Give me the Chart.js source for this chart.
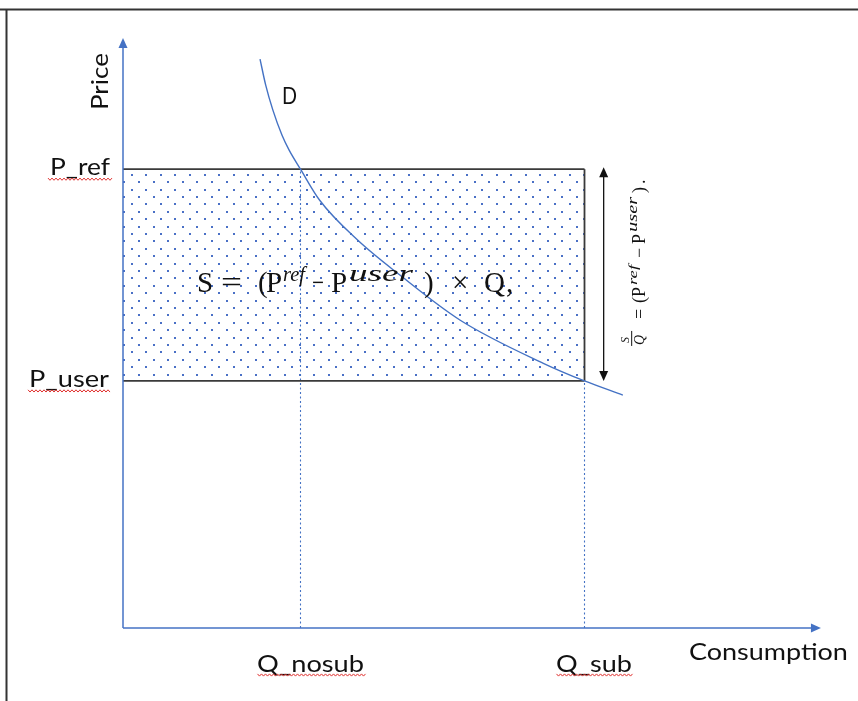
<!DOCTYPE html>
<html><head><meta charset="utf-8">
<script src="https://cdn.jsdelivr.net/npm/chart.js@4"></script>
<style>html,body{margin:0;padding:0;background:#fff}#wrap{width:858px;height:701px;position:relative}</style>
</head><body><div id="wrap"><canvas id="c"></canvas></div>
<script>
// ---- data ----
const xTickLabels = ['Q_nosub', 'Q_sub'];
const xTickValues = [2.5, 6.5];
const yTickLabels = ['P_user', 'P_ref'];
const yTickValues = [3.5, 6.5];
const demandQ = [1.93, 2.01, 2.11, 2.24, 2.34, 2.5, 2.77, 3.30, 3.90, 4.75, 5.92, 6.5, 7.04];
const demandP = [8.06, 7.69, 7.34, 6.98, 6.77, 6.5, 6.06, 5.50, 5.00, 4.36, 3.75, 3.5, 3.30];
const xAxisLabel = 'Consumption';
const yAxisLabel = 'Price';
const curveLabel = 'D';
const axisTipX = 9.83;
const axisTipY = 8.36;
const gapArrowX = 6.77;

const Q_NOSUB = xTickValues[0], Q_SUB = xTickValues[1];
const P_USER = yTickValues[0], P_REF = yTickValues[1];

const BLUE = '#4472C4';
const DARK = '#3a3a3a';

const canvas = document.getElementById('c');
const mainCtx = canvas.getContext('2d');

function makeDots() {
  const W = 73, H = 74;
  const c = document.createElement('canvas'); c.width = W; c.height = H;
  const g = c.getContext('2d');
  g.fillStyle = '#4a70c6';
  for (let r = 0; r < 10; r++) for (let k = 0; k < 5; k++) {
    const x = Math.round(k * 14.6 + (r % 2 ? 7.3 : 0) + 3.65), y = Math.round(r * 7.4 + 3.7);
    g.fillRect(x - 1, y - 1, 2, 2);
  }
  const p = mainCtx.createPattern(c, 'repeat');
  p.setTransform(new DOMMatrix([1, 0, 0, 1, 128, 171]));
  return p;
}
const dots = makeDots();

const pts = (xs, ys) => xs.map((x, i) => ({x, y: ys[i]}));
const seg = (x1, y1, x2, y2) => [{x: x1, y: y1}, {x: x2, y: y2}];
const base = {pointRadius: 0, borderWidth: 1.5, fill: false, clip: false, tension: 0};

const datasets = [
  Object.assign({}, base, {label: 'D', data: pts(demandQ, demandP), borderColor: BLUE, borderWidth: 1.4, cubicInterpolationMode: 'monotone', order: 1}),
  Object.assign({}, base, {label: 'yaxis', data: seg(0, 0, 0, axisTipY - 0.1), borderColor: BLUE, order: 2}),
  Object.assign({}, base, {label: 'xaxis', data: seg(0, 0, axisTipX - 0.1, 0), borderColor: BLUE, order: 2}),
  Object.assign({}, base, {label: 'gap', data: seg(gapArrowX, P_USER + 0.1, gapArrowX, P_REF - 0.1), borderColor: '#111', borderWidth: 1.3, order: 3}),
  Object.assign({}, base, {label: 'user', data: seg(0, P_USER, Q_SUB, P_USER), borderColor: DARK, borderWidth: 1.8, order: 4}),
  Object.assign({}, base, {label: 'right', data: seg(Q_SUB, P_USER, Q_SUB, P_REF), borderColor: DARK, borderWidth: 1.8, order: 4}),
  Object.assign({}, base, {label: 'qn', data: seg(Q_NOSUB, 0, Q_NOSUB, P_REF), borderColor: BLUE, borderWidth: 1.1, borderDash: [2, 2.5], order: 5}),
  Object.assign({}, base, {label: 'qs', data: seg(Q_SUB, 0, Q_SUB, P_USER), borderColor: BLUE, borderWidth: 1.1, borderDash: [2, 2.5], order: 5}),
  Object.assign({}, base, {label: 'S', data: seg(0, P_REF, Q_SUB, P_REF), borderColor: DARK, borderWidth: 1.8, fill: {value: P_USER}, backgroundColor: dots, order: 10})
];

function fitText(ctx, str, font, x, y, w) {
  ctx.font = font;
  const m = ctx.measureText(str).width;
  const s = w ? w / m : 1;
  ctx.save(); ctx.translate(x, y); ctx.scale(s, 1);
  ctx.textAlign = 'left'; ctx.textBaseline = 'alphabetic';
  ctx.fillText(str, 0, 0); ctx.restore();
}
function tri(ctx, tx, ty, dx, dy, len, hw, col) {
  const bx = tx - dx * len, by = ty - dy * len, px = -dy, py = dx;
  ctx.beginPath(); ctx.moveTo(tx, ty);
  ctx.lineTo(bx + px * hw, by + py * hw); ctx.lineTo(bx - px * hw, by - py * hw);
  ctx.closePath(); ctx.fillStyle = col; ctx.fill();
}
function squig(ctx, x1, x2, y) {
  ctx.save(); ctx.beginPath(); ctx.strokeStyle = '#e0312f'; ctx.lineWidth = 1;
  let i = 0;
  for (let x = x1; x <= x2; x += 2, i++) {
    const yy = y + (i % 2 ? 1.1 : -1.1);
    if (i === 0) ctx.moveTo(x, yy); else ctx.lineTo(x, yy);
  }
  ctx.stroke(); ctx.restore();
}

const deco = {
  id: 'deco',
  beforeDraw(chart) {
    const ctx = chart.ctx; ctx.save(); ctx.fillStyle = '#fff';
    ctx.fillRect(0, 0, chart.width, chart.height); ctx.restore();
  },
  afterDraw(chart) {
    const ctx = chart.ctx;
    const X = v => chart.scales.x.getPixelForValue(v);
    const Y = v => chart.scales.y.getPixelForValue(v);
    const X0 = X(0), Y0 = Y(0);
    ctx.save();
    // frame
    ctx.fillStyle = '#9a9a9a'; ctx.fillRect(0, 8, chart.width, 1);
    ctx.fillStyle = '#333'; ctx.fillRect(0, 9, chart.width, 1.5); ctx.fillRect(5.5, 9, 2, chart.height);
    // arrowheads
    tri(ctx, X0, Y(axisTipY), 0, -1, 10, 4.5, BLUE);
    tri(ctx, X(axisTipX), Y0, 1, 0, 10, 4.5, BLUE);
    tri(ctx, X(gapArrowX), Y(P_REF) - 2, 0, -1, 10, 4.5, '#111');
    tri(ctx, X(gapArrowX), Y(P_USER), 0, 1, 10, 4.5, '#111');
    // labels
    ctx.fillStyle = '#111';
    const LF = '23px Lato';
    fitText(ctx, yTickLabels[1], LF, X0 - 73, Y(P_REF) + 6, 60);
    fitText(ctx, yTickLabels[0], LF, X0 - 94, Y(P_USER) + 6, 80);
    fitText(ctx, xTickLabels[0], LF, X(Q_NOSUB) - 43.5, Y0 + 44, 107);
    fitText(ctx, xTickLabels[1], LF, X(Q_SUB) - 28.5, Y0 + 44, 76);
    fitText(ctx, xAxisLabel, LF, X(axisTipX) - 132, Y0 + 32, 159);
    fitText(ctx, curveLabel, LF, X(demandQ[0]) + 22, Y(demandP[0]) + 45, 15);
    ctx.save(); ctx.translate(X0 - 15, 110); ctx.rotate(-Math.PI / 2);
    fitText(ctx, yAxisLabel, '24px Lato', 0, 0, 57); ctx.restore();
    // squiggles
    squig(ctx, X0 - 75, X0 - 11, Y(P_REF) + 10);
    squig(ctx, X0 - 95, X0 - 13, Y(P_USER) + 10);
    squig(ctx, X(Q_NOSUB) - 43, X(Q_NOSUB) + 66, Y0 + 47);
    squig(ctx, X(Q_SUB) - 28, X(Q_SUB) + 48, Y0 + 47);
    // main formula
    const M = '29px "Liberation Serif"', S = 'italic 21px "Liberation Serif"', SU = 'italic 23px "Liberation Serif"';
    const fx = X0 + 74, fy = Y(P_USER) - 89;
    const parts = [['S', 0, 0, 0, M], ['=', 24, 21, 0, M], ['(', 61, 0, 0, M], ['P', 69, 0, 0, M], ['ref', 86, 22, -11, S],
      ['\u2212', 115, 12, 0, M], ['P', 134, 0, 0, M], ['user', 152, 64, -11, SU], [')', 227, 0, 0, M], ['\u00d7', 255, 0, 0, M],
      ['Q', 287, 0, 0, M], [',', 309, 0, 0, M]];
    parts.forEach(p => fitText(ctx, p[0], p[4], fx + p[1], fy + p[3], p[2]));
    // rotated formula
    ctx.save(); ctx.translate(X(gapArrowX) + 41, Y(P_USER) - 34); ctx.rotate(-Math.PI / 2);
    const RM = '18px "Liberation Serif"', RS = 'italic 13px "Liberation Serif"', RSU = 'italic 14px "Liberation Serif"';
    fitText(ctx, 'S', 'italic 12px "Liberation Serif"', 4, -16, 0);
    ctx.fillRect(1, -13.5, 15, 1);
    fitText(ctx, 'Q', 'italic 14px "Liberation Serif"', 2, -1, 0);
    const rparts = [['=', 28, 0, 0, RM], ['(', 44, 0, 0, RM], ['P', 50, 0, 0, RM], ['ref', 62, 20, -8, RS], ['\u2212', 89, 0, 0, RM],
      ['P', 103, 0, 0, RM], ['user', 115, 35, -8, RSU], [')', 154, 0, 0, RM], ['.', 163, 0, 0, RM]];
    rparts.forEach(p => fitText(ctx, p[0], p[4], p[1], p[3], p[2]));
    ctx.restore();
    ctx.restore();
  }
};

new Chart(canvas, {
  type: 'line',
  data: {datasets},
  options: {
    responsive: true, maintainAspectRatio: false, animation: false, events: [],
    layout: {padding: {left: 123, right: 25, top: 28, bottom: 73}},
    scales: {
      x: {type: 'linear', min: 0, max: 10, display: false},
      y: {type: 'linear', min: 0, max: 8.5, display: false}
    },
    plugins: {legend: {display: false}, tooltip: {enabled: false}}
  },
  plugins: [deco]
});
</script></body></html>
